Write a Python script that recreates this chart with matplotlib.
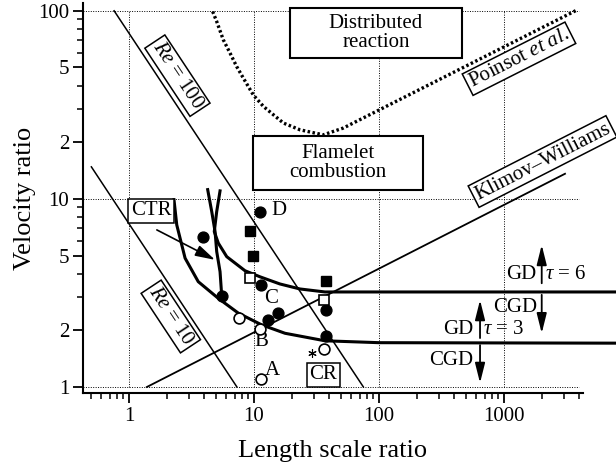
import matplotlib
matplotlib.use("Agg")
import matplotlib.pyplot as plt
import numpy as np
from matplotlib.patches import Rectangle
from matplotlib.ticker import FixedLocator, FixedFormatter, LogLocator, NullFormatter

plt.rcParams['font.family'] = 'Liberation Serif'
plt.rcParams['mathtext.fontset'] = 'custom'
plt.rcParams['mathtext.rm'] = 'Liberation Serif'
plt.rcParams['mathtext.it'] = 'Liberation Serif:italic'

# Reynolds number lines
re100_x = [0.76, 75.0]
re100_y = [100.0, 1.0]
re10_x = [0.50, 7.3]
re10_y = [14.8, 1.0]

# Klimov-Williams criterion
kw_x = [1.39, 3076.0]
kw_y = [1.0, 13.6]

# Poinsot et al. boundary (dotted)
poinsot_x = [4.67, 5.03, 5.68, 6.43, 7.27, 8.21, 9.87, 11.9, 14.3, 17.2, 23.3, 35.8, 51.8, 3840.0]
poinsot_y = [99.1, 87.7, 70.1, 59.6, 50.5, 43.9, 35.7, 31.0, 28.0, 25.3, 23.3, 21.9, 23.8, 101.0]

# GD / CGD boundaries for tau = 3 and tau = 6
tau3_x = [2.29, 2.41, 2.81, 3.58, 5.18, 7.49, 11.5, 17.7, 37.0, 100.0, 7870.0]
tau3_y = [9.9, 7.27, 4.84, 3.63, 2.96, 2.47, 2.14, 1.93, 1.76, 1.72, 1.71]
tau6_x = [5.35, 5.03, 4.81, 5.18, 6.05, 8.47, 11.2, 16.1, 23.3, 37.0, 147.0, 7870.0]
tau6_y = [11.03, 8.56, 6.70, 5.82, 4.93, 4.15, 3.85, 3.53, 3.32, 3.20, 3.20, 3.20]

# steep boundary ending on the filled circle
steep_x = [4.26, 4.59, 4.88, 5.03, 5.35, 5.51]
steep_y = [11.2, 8.56, 6.70, 5.25, 4.10, 3.09]

# experimental points
fcirc_x = [11.2, 3.89, 11.3, 5.51, 13.0, 15.6, 37.7, 37.7]
fcirc_y = [8.5, 6.25, 3.49, 3.05, 2.27, 2.47, 2.57, 1.87]
fsq_x = [9.29, 9.87, 37.7]
fsq_y = [6.78, 4.98, 3.66]
osq_x = [9.29, 36.4]
osq_y = [3.81, 2.90]
ocirc_x = [7.59, 11.2, 11.3, 36.4]
ocirc_y = [2.32, 2.03, 1.10, 1.59]
star_x = [29.0]
star_y = [1.52]

case_labels = ['A', 'B', 'C', 'D']
case_x = [14.1, 11.5, 13.7, 15.8]
case_y = [1.23, 1.74, 2.96, 8.64]

# regime arrows: x, start y, end y
arrow_x = [2003.0, 2003.0, 643.0, 643.0]
arrow_y0 = [3.56, 3.09, 1.82, 1.67]
arrow_y1 = [5.69, 1.93, 2.90, 1.05]

fig = plt.figure(figsize=(6.16, 4.66), dpi=100)
ax = fig.add_axes([83 / 616, 73 / 466, 500 / 616, 390 / 466])
ax.set_xscale('log')
ax.set_yscale('log')
ax.set_xlim(0.4285, 4285)
ax.set_ylim(0.929, 110)

for s in ['top', 'right']:
    ax.spines[s].set_visible(False)
for s in ['left', 'bottom']:
    ax.spines[s].set_linewidth(1.5)

# ticks
ax.xaxis.set_major_locator(FixedLocator([1, 10, 100, 1000]))
ax.xaxis.set_major_formatter(FixedFormatter(['1', '10', '100', '1000']))
ax.xaxis.set_minor_locator(LogLocator(base=10, subs=np.arange(2, 10)))
ax.xaxis.set_minor_formatter(NullFormatter())
ax.yaxis.set_major_locator(FixedLocator([1, 2, 5, 10, 20, 50, 100]))
ax.yaxis.set_major_formatter(FixedFormatter(['1', '2', '5', '10', '2', '5', '100']))
ax.yaxis.set_minor_locator(FixedLocator([3, 4, 6, 7, 8, 9, 30, 40, 60, 70, 80, 90]))
ax.yaxis.set_minor_formatter(NullFormatter())
ax.tick_params(which='major', direction='out', length=7, width=1.3, labelsize=15, pad=3)
ax.tick_params(which='minor', direction='out', length=4, width=1.1)

ax.set_xlabel('Length scale ratio', fontsize=19)
ax.set_ylabel('Velocity ratio', fontsize=19)
ax.xaxis.set_label_coords(0.5, -0.12)
ax.yaxis.set_label_coords(-0.094, 0.50)

# dotted grid box
grid_ls = (0, (1, 1.5))
ax.hlines([1, 10, 100], 0.4285, 4000, colors='k', linestyles=grid_ls, lw=0.7, zorder=0)
ax.vlines([1, 10, 100, 1000], 1, 100, colors='k', linestyles=grid_ls, lw=0.7, zorder=0)

# lines
ax.plot(re100_x, re100_y, color='k', lw=1.1)
ax.plot(re10_x, re10_y, color='k', lw=1.1)
ax.plot(kw_x, kw_y, color='k', lw=1.3)
ax.plot(poinsot_x, poinsot_y, color='k', lw=2.4, ls=(0, (0.75, 0.75)), dash_capstyle='butt')
ax.plot(tau3_x, tau3_y, color='k', lw=2.2, clip_on=False)
ax.plot(tau6_x, tau6_y, color='k', lw=2.2, clip_on=False)
ax.plot(steep_x, steep_y, color='k', lw=2.2)

# points
ax.plot(fcirc_x, fcirc_y, 'o', color='k', ms=7.8, zorder=5)
ax.plot(fsq_x, fsq_y, 's', color='k', ms=7.5, zorder=5)
ax.plot(osq_x, osq_y, 's', mfc='white', mec='k', mew=1.2, ms=7.5, zorder=5)
ax.plot(ocirc_x, ocirc_y, 'o', mfc='white', mec='k', mew=1.2, ms=7.8, zorder=5)
ax.plot(star_x, star_y, ls='none', marker=(6, 2, 0), color='k', ms=6, mew=0.8, zorder=5)
for lab, x, y in zip(case_labels, case_x, case_y):
    ax.text(x, y, lab, fontsize=15, ha='center', va='center')

# arrows
for x, y0, y1 in zip(arrow_x, arrow_y0, arrow_y1):
    ax.annotate('', xy=(x, y1), xytext=(x, y0),
                arrowprops=dict(arrowstyle='-|>,head_length=0.6,head_width=0.15',
                                mutation_scale=20, lw=1.3, color='k',
                                shrinkA=0, shrinkB=0))
ax.annotate('', xy=(4.88, 4.74), xytext=(1.67, 6.84),
            arrowprops=dict(arrowstyle='-|>,head_length=0.6,head_width=0.17',
                            mutation_scale=20, lw=1.2, color='k',
                            shrinkA=0, shrinkB=0))

ax.text(1803, 3.94, 'GD', fontsize=15, ha='right', va='center')
ax.text(2128, 3.94, r'$\tau$ = 6', fontsize=15, ha='left', va='center')
ax.text(1837, 2.65, 'CGD', fontsize=15, ha='right', va='center')
ax.text(565, 2.03, 'GD', fontsize=15, ha='right', va='center')
ax.text(679, 2.03, r'$\tau$ = 3', fontsize=15, ha='left', va='center')
ax.text(565, 1.38, 'CGD', fontsize=15, ha='right', va='center')


def screen_angle(xs, ys):
    p = ax.transData.transform(np.column_stack([xs[-2:], ys[-2:]]))
    return np.degrees(np.arctan2(p[1, 1] - p[0, 1], p[1, 0] - p[0, 0]))


box = dict(boxstyle='square,pad=0.12', fc='white', ec='k', lw=1.1)
ax.text(2.44, 45.2, r'$\mathit{Re}$ = 100', fontsize=15, rotation=screen_angle(re100_x, re100_y),
        rotation_mode='anchor', ha='center', va='center', bbox=box)
ax.text(2.16, 2.37, r'$\mathit{Re}$ = 10', fontsize=15, rotation=screen_angle(re10_x, re10_y),
        rotation_mode='anchor', ha='center', va='center', bbox=box)
ax.text(1318, 55.6, r'Poinsot $\mathit{et\ al.}$', fontsize=15,
        rotation=screen_angle(poinsot_x, poinsot_y),
        rotation_mode='anchor', ha='center', va='center', bbox=box)
ax.text(2032, 15.8, 'Klimov–Williams', fontsize=15, rotation=screen_angle(kw_x, kw_y),
        rotation_mode='anchor', ha='center', va='center', bbox=box)
ax.text(1.5, 8.63, 'CTR', fontsize=15, ha='center', va='center', bbox=box)
ax.text(35.9, 1.16, 'CR', fontsize=15, ha='center', va='center', bbox=box)

# regime boxes
ax.add_patch(Rectangle((9.82, 11.2), 225 - 9.82, 21.6 - 11.2, fc='white', ec='k', lw=1.5, zorder=3))
ax.text(47, 15.5, 'Flamelet\ncombustion', fontsize=15, ha='center', va='center',
        linespacing=1.0, zorder=4)
ax.add_patch(Rectangle((19.4, 56.2), 461 - 19.4, 103.7 - 56.2, fc='white', ec='k', lw=1.5, zorder=3))
ax.text(94.6, 76.3, 'Distributed\nreaction', fontsize=15, ha='center', va='center',
        linespacing=1.0, zorder=4)

fig.savefig('out.png', dpi=100)
